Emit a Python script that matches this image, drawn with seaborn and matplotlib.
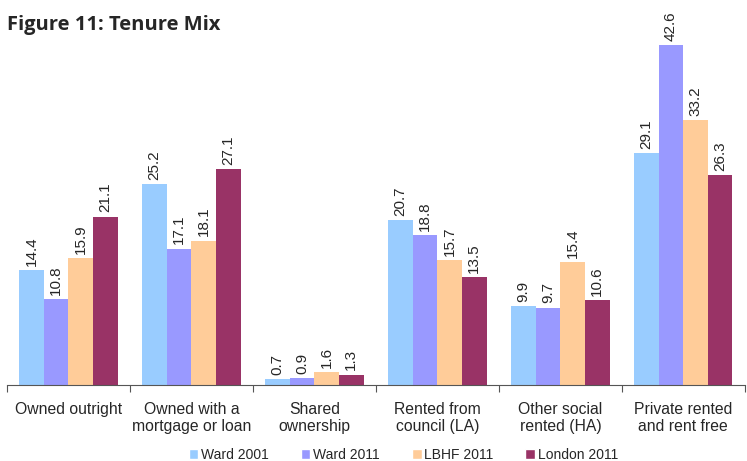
import numpy as np
import pandas as pd
import matplotlib.pyplot as plt
import seaborn as sns
from matplotlib.patches import Patch

# ---- Data ----
categories = ["Owned outright", "Owned with a\nmortgage or loan", "Shared\nownership",
              "Rented from\ncouncil (LA)", "Other social\nrented (HA)",
              "Private rented\nand rent free"]
series = ["Ward 2001", "Ward 2011", "LBHF 2011", "London 2011"]
ward_2001 = [14.4, 25.2, 0.7, 20.7, 9.9, 29.1]
ward_2011 = [10.8, 17.1, 0.9, 18.8, 9.7, 42.6]
lbhf_2011 = [15.9, 18.1, 1.6, 15.7, 15.4, 33.2]
london_2011 = [21.1, 27.1, 1.3, 13.5, 10.6, 26.3]
colors = ["#99CCFF", "#9999FF", "#FFCC99", "#993366"]

rows = []
for name, vals in zip(series, [ward_2001, ward_2011, lbhf_2011, london_2011]):
    for cat, v in zip(categories, vals):
        rows.append({"Tenure": cat, "Series": name, "Value": v})
df = pd.DataFrame(rows)

sns.set_style("white")
plt.rcParams["font.family"] = ["Liberation Sans", "DejaVu Sans"]

fig = plt.figure(figsize=(7.47, 4.61), dpi=100)
ax = fig.add_axes([0.0094, 0.1649, 0.9876, 0.7787])

sns.barplot(data=df, x="Tenure", y="Value", hue="Series", order=categories,
            hue_order=series, palette=colors, width=0.8, saturation=1,
            edgecolor="none", ax=ax, legend=False)

for cont in ax.containers:
    ax.bar_label(cont, fmt="%.1f", rotation=90, padding=3, fontsize=11)

ax.set_ylim(0, 45)
ax.set_xlim(-0.5, len(categories) - 0.5)
ax.set_xlabel("")
ax.set_ylabel("")
ax.set_yticks([])
for s in ["top", "right", "left"]:
    ax.spines[s].set_visible(False)
ax.spines["bottom"].set_color("#555555")

# boundary ticks, labels in the middle
ax.set_xticks(np.arange(-0.5, len(categories)), minor=False)
ax.set_xticklabels([])
ax.set_xticks(np.arange(len(categories)), minor=True)
ax.set_xticklabels(categories, minor=True, fontsize=11.3)
ax.tick_params(axis="x", which="major", direction="out", length=5,
               color="#555555", bottom=True)
ax.tick_params(axis="x", which="minor", length=0, pad=12)

handles = [Patch(facecolor=c, label=s) for c, s in zip(colors, series)]
fig.legend(handles=handles, loc="center", bbox_to_anchor=(0.54, 0.014),
           ncol=4, frameon=False, fontsize=10, handlelength=0.7,
           handleheight=0.7, handletextpad=0.2, columnspacing=2.3,
           borderpad=0)

fig.text(0.009, 0.946, "Figure 11: Tenure Mix", fontsize=14.5, fontweight="bold",
         family=["Open Sans", "DejaVu Sans"], va="center", ha="left")

fig.savefig("out.png", dpi=100)
